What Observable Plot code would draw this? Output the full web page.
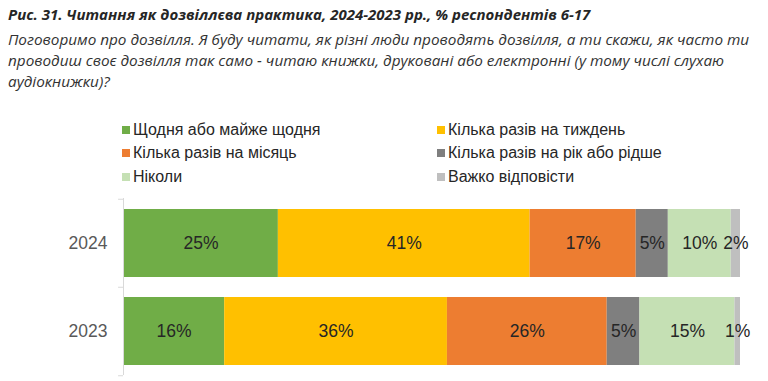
<!DOCTYPE html>
<html>
<head>
<meta charset="utf-8">
<script src="https://cdn.jsdelivr.net/npm/d3@7"></script>
<script src="https://cdn.jsdelivr.net/npm/@observablehq/plot@0.6"></script>
<style>
  html, body { margin: 0; padding: 0; background: #fff; }
  body { width: 768px; height: 381px; position: relative; overflow: hidden; }
  .title { position: absolute; left: 8px; top: 4px; font-family: "Open Sans", sans-serif; font-style: italic; font-weight: 700; font-size: 15px; line-height: 21px; color: #262626; white-space: nowrap; }
  .subtitle { position: absolute; left: 8px; top: 29px; font-family: "Open Sans", sans-serif; font-style: italic; font-size: 15.3px; line-height: 21px; color: #333; white-space: nowrap; }
  .legend { position: absolute; left: 122px; top: 118px; font-family: "Liberation Sans", Arial, sans-serif; font-size: 16px; color: #262626; display: grid; grid-template-columns: 315px 320px; grid-auto-rows: 23.5px; }
  .legend .item { display: flex; align-items: center; white-space: nowrap; }
  .legend .sw { width: 8px; height: 8px; margin-right: 3px; flex: none; }
  #chart { position: absolute; left: 0; top: 190px; }
</style>
</head>
<body>
<div class="title">Рис. 31. Читання як дозвіллєва практика, 2024-2023 рр., % респондентів 6-17</div>
<div class="subtitle">Поговоримо про дозвілля. Я буду читати, як різні люди проводять дозвілля, а ти скажи, як часто ти<br>проводиш своє дозвілля так само - читаю книжки, друковані або електронні (у тому числі слухаю<br>аудіокнижки)?</div>
<div class="legend" id="legend"></div>
<div id="chart"></div>
<script>
const years = ["2024", "2023"];
const categories = [
  "Щодня або майже щодня",
  "Кілька разів на тиждень",
  "Кілька разів на місяць",
  "Кілька разів на рік або рідше",
  "Ніколи",
  "Важко відповісти"
];
const colors = ["#70AD47", "#FFC000", "#ED7D31", "#7F7F7F", "#C5E0B4", "#BFBFBF"];
const values2024 = [25.1, 40.8, 17.2, 5.2, 10.2, 1.5];
const values2023 = [16.4, 36.1, 25.9, 5.3, 15.4, 0.9];
const labels2024 = ["25%", "41%", "17%", "5%", "10%", "2%"];
const labels2023 = ["16%", "36%", "26%", "5%", "15%", "1%"];

const rows = [];
categories.forEach((c, i) => rows.push({year: years[0], category: c, value: values2024[i], label: labels2024[i]}));
categories.forEach((c, i) => rows.push({year: years[1], category: c, value: values2023[i], label: labels2023[i]}));

// legend (HTML, above the SVG)
const legend = document.getElementById("legend");
categories.forEach((c, i) => {
  const item = document.createElement("div");
  item.className = "item";
  const sw = document.createElement("span");
  sw.className = "sw";
  sw.style.background = colors[i];
  item.appendChild(sw);
  item.appendChild(document.createTextNode(c));
  legend.appendChild(item);
});

const width = 768, height = 191;
const marginTop = 8, marginBottom = 6, marginLeft = 123, marginRight = 28;
const step = (height - marginTop - marginBottom) / years.length;
const axisColor = "#D9D9D9";

const plot = Plot.plot({
  width, height, marginTop, marginBottom, marginLeft, marginRight,
  style: {fontFamily: "'Liberation Sans', Arial, sans-serif", fontSize: "17.5px", color: "#595959", background: "#fff"},
  x: {domain: [0, 100], axis: null},
  y: {domain: years, paddingInner: 0.23, paddingOuter: 0.115, tickSize: 0, tickPadding: 16, label: null},
  color: {domain: categories, range: colors},
  marks: [
    Plot.barX(rows, Plot.stackX({x: "value", y: "year", fill: "category"})),
    Plot.textX(rows, Plot.stackX({x: "value", y: "year", z: "category", text: "label", fill: "#262626", fontSize: 17.5})),
    Plot.ruleX([0], {stroke: axisColor}),
    Plot.ruleY(years, {y: d => d, x1: -0.8, x2: 0, dy: -step / 2, stroke: axisColor}),
    Plot.ruleY([years[years.length - 1]], {y: d => d, x1: -0.8, x2: 0, dy: step / 2, stroke: axisColor})
  ]
});
document.getElementById("chart").appendChild(plot);
</script>
</body>
</html>
